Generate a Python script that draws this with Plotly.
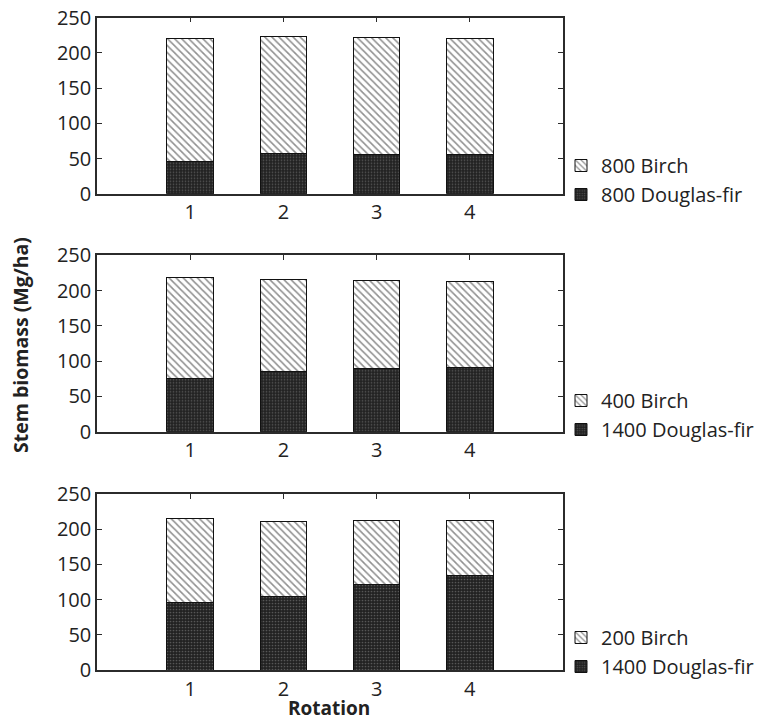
import plotly.graph_objects as go

# Rotation number on the x axis
rotations = [1, 2, 3, 4]

# Stem biomass (Mg/ha) per rotation for each planting mix
df_800 = [46, 57, 56, 55]
birch_800 = [175, 167, 166, 166]

df_1400_a = [75, 85, 89, 91]
birch_400 = [143, 131, 125, 122]

df_1400_b = [96, 105, 122, 134]
birch_200 = [119, 106, 91, 79]

panels = [
    ("800 Douglas-fir", df_800, "800 Birch", birch_800),
    ("1400 Douglas-fir", df_1400_a, "400 Birch", birch_400),
    ("1400 Douglas-fir", df_1400_b, "200 Birch", birch_200),
]

W, H = 762, 724
x_dom = [97 / W, 563 / W]
# (top, bottom) pixel rows of each panel and the centre row of its legend
y_px = [(17.7, 193.7), (255.3, 431.7), (494, 670)]
legend_mid = [180, 415, 652]

FONT = "Open Sans, Noto Sans, sans-serif"
LINE = "#2b2b2b"

fig = go.Figure()

for i, (df_name, df_vals, b_name, b_vals) in enumerate(panels):
    n = i + 1
    xa = "x" if n == 1 else f"x{n}"
    ya = "y" if n == 1 else f"y{n}"
    leg = "legend" if n == 1 else f"legend{n}"
    fig.add_trace(go.Bar(
        x=rotations, y=df_vals, name=df_name, xaxis=xa, yaxis=ya, legend=leg,
        width=0.5,
        marker=dict(
            color="#262626",
            line=dict(color="#111111", width=1),
            pattern=dict(shape=".", size=3, solidity=0.25,
                         fgcolor="#8a8a8a", bgcolor="#222222"),
        ),
    ))
    fig.add_trace(go.Bar(
        x=rotations, y=b_vals, name=b_name, xaxis=xa, yaxis=ya, legend=leg,
        width=0.5,
        marker=dict(
            color="white",
            line=dict(color="#111111", width=1),
            pattern=dict(shape="\\", size=5, solidity=0.32,
                         fgcolor="#222222", bgcolor="white"),
        ),
    ))

layout = dict(
    width=W, height=H,
    margin=dict(l=0, r=0, t=0, b=0, pad=0, autoexpand=False),
    barmode="stack",
    plot_bgcolor="white", paper_bgcolor="white",
    font=dict(family=FONT, size=20, color="#222222"),
    showlegend=True,
)

for i, (top, bot) in enumerate(y_px):
    n = i + 1
    sfx = "" if n == 1 else str(n)
    layout[f"xaxis{sfx}"] = dict(
        domain=x_dom, range=[0, 5], anchor=f"y{sfx}", automargin=False,
        tickvals=rotations, ticks="inside", ticklen=5, tickcolor=LINE,
        showline=True, linecolor=LINE, linewidth=1.5, mirror="ticks",
        showgrid=False, zeroline=False, fixedrange=True,
        tickfont=dict(size=20),
    )
    layout[f"yaxis{sfx}"] = dict(
        domain=[1 - bot / H, 1 - top / H], range=[0, 250], anchor=f"x{sfx}",
        automargin=False,
        tickvals=[0, 50, 100, 150, 200, 250], ticks="inside", ticklen=5,
        tickcolor=LINE, showline=True, linecolor=LINE, linewidth=1.5,
        mirror="ticks", showgrid=False, zeroline=False,
        tickfont=dict(size=20),
    )
    layout["legend" if n == 1 else f"legend{n}"] = dict(
        x=561 / W, xanchor="left",
        y=1 - legend_mid[i] / H, yanchor="middle",
        traceorder="reversed", bgcolor="rgba(0,0,0,0)",
        font=dict(size=20), tracegroupgap=0,
    )

fig.update_layout(**layout)

fig.add_annotation(
    text="<b>Stem biomass (Mg/ha)</b>", textangle=-90,
    x=20 / W, y=1 - 345 / H, xref="paper", yref="paper",
    xanchor="center", yanchor="middle",
    showarrow=False, font=dict(size=19.5, family=FONT),
)
fig.add_annotation(
    text="<b>Rotation</b>",
    x=329 / W, y=1 - 708 / H, xref="paper", yref="paper",
    xanchor="center", yanchor="middle",
    showarrow=False, font=dict(size=19, family=FONT),
)

fig.write_html("out.html")
